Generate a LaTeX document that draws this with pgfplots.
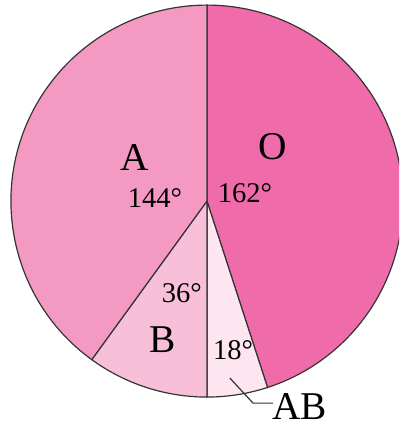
\documentclass[border=0pt]{standalone}
\usepackage{fontspec}
\setmainfont{Liberation Serif}
\usepackage{pgfplots}
\pgfplotsset{compat=1.18}
\begin{document}
\begin{tikzpicture}
  \definecolor{cO}{HTML}{F06BA9}
  \definecolor{cA}{HTML}{F49AC2}
  \definecolor{cB}{HTML}{F8BFD9}
  \definecolor{cAB}{HTML}{FDE6F0}
  \definecolor{edge}{HTML}{333333}
  \begin{axis}[
    name=pie,
    x=3.5cm, y=3.5cm,
    xmin=-1.056, xmax=0.980,
    ymin=-1.168, ymax=1.026,
    hide axis,
    clip=true,
  ]
    % slices: start angle, end angle (degrees), unit radius
    \filldraw[fill=cO,  draw=edge, line width=0.6pt] (axis cs:0,0) -- (axis cs:0,1) arc[start angle=90,   end angle=-72,  radius=3.5cm] -- cycle;
    \filldraw[fill=cAB, draw=edge, line width=0.6pt] (axis cs:0,0) -- (axis cs:0.309,-0.951) arc[start angle=-72,  end angle=-90,  radius=3.5cm] -- cycle;
    \filldraw[fill=cB,  draw=edge, line width=0.6pt] (axis cs:0,0) -- (axis cs:0,-1) arc[start angle=-90,  end angle=-126, radius=3.5cm] -- cycle;
    \filldraw[fill=cA,  draw=edge, line width=0.6pt] (axis cs:0,0) -- (axis cs:-0.588,-0.809) arc[start angle=-126, end angle=-270, radius=3.5cm] -- cycle;

    \node[font=\fontsize{20}{22}\selectfont] at (axis cs:-0.367,0.224) {A};
    \node[font=\fontsize{20}{22}\selectfont] at (axis cs:0.337,0.276) {O};
    \node[font=\fontsize{20}{22}\selectfont] at (axis cs:-0.224,-0.709) {B};
    \node[font=\fontsize{14.5}{16}\selectfont] at (axis cs:-0.265,0.015) {144°};
    \node[font=\fontsize{14.5}{16}\selectfont] at (axis cs:0.194,0.041) {162°};
    \node[font=\fontsize{14.5}{16}\selectfont] at (axis cs:-0.128,-0.469) {36°};
    \node[font=\fontsize{14.5}{16}\selectfont] at (axis cs:0.133,-0.760) {18°};
    \draw[edge, line width=0.6pt] (axis cs:0.117,-0.903) -- (axis cs:0.235,-1.031) -- (axis cs:0.337,-1.031);
    \node[font=\fontsize{20}{22}\selectfont] at (axis cs:0.474,-1.050) {AB};
  \end{axis}
  \pgfresetboundingbox
  \path[use as bounding box] (pie.south west) rectangle (pie.north east);
\end{tikzpicture}
\end{document}
